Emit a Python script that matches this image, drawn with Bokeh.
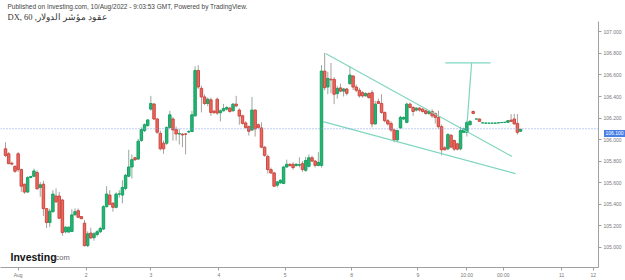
from bokeh.plotting import figure
from bokeh.models import Range1d, FixedTicker, Span, Label, PrintfTickFormatter, ColumnDataSource, Title, Div
from bokeh.layouts import column
from bokeh.embed import file_html
from bokeh.resources import INLINE

# ---------------- data (hourly candles, DX 60) ----------------
opens = [105.914, 105.868, 105.780, 105.751, 105.868, 105.721, 105.585, 105.512, 105.648, 105.659,
         105.693, 105.555, 105.585, 105.358, 105.229, 105.330, 105.475, 105.475, 105.438, 105.143,
         105.140, 105.146, 105.302, 105.339, 105.284, 105.223, 105.014, 105.131, 105.088, 105.118,
         105.143, 105.168, 105.376, 105.484, 105.407, 105.370, 105.493, 105.484, 105.546, 105.659,
         105.745,
         105.831, 105.819, 105.991, 106.083, 106.129, 106.283, 106.330, 106.191, 106.058, 105.966,
         105.966, 106.113, 106.191, 106.092, 106.052, 106.050, 106.052, 106.070, 106.074, 106.221,
         106.642, 106.476, 106.396, 106.335, 106.369, 106.265, 106.375, 106.249, 106.267, 106.283,
         106.293, 106.267, 106.329, 106.274, 106.221, 106.154, 106.120, 106.089, 106.274, 106.138,
         106.108, 105.929,
         105.843, 105.721, 105.690, 105.576, 105.597, 105.592, 105.745, 105.770, 105.770, 105.758,
         105.762, 105.776, 105.714, 105.751, 105.831, 105.800, 105.760, 105.760, 106.636, 106.488,
         106.560, 106.559, 106.427, 106.480, 106.450, 106.470, 106.519, 106.590, 106.488, 106.458,
         106.436, 106.406, 106.427, 106.436, 106.145, 106.353, 106.335, 106.252, 106.175, 106.150,
         106.089, 105.997, 106.108, 106.191, 106.160, 106.329, 106.298, 106.274, 106.292, 106.283,
         106.267, 106.243, 106.261, 106.243, 106.206, 106.120, 105.923, 105.914, 106.040, 105.991,
         105.960, 105.914, 106.067, 106.067, 106.138, 106.261, 106.191, 106.191,
         106.155, 106.153, 106.152, 106.152, 106.153, 106.155, 106.158, 106.160,
         106.160, 106.180, 106.191, 106.150, 106.077]
highs = [105.975, 105.883, 105.795, 105.760, 105.883, 105.730, 105.590, 105.659, 105.665, 105.730,
         105.714, 105.606, 105.616, 105.365, 105.358, 105.530, 105.546, 105.514, 105.450, 105.196,
         105.190, 105.352, 105.360, 105.360, 105.290, 105.253, 105.146, 105.180, 105.140, 105.160,
         105.190, 105.390, 105.567, 105.530, 105.420, 105.510, 105.530, 105.622, 105.680, 105.905,
         105.862,
         105.840, 106.006, 106.113, 106.150, 106.190, 106.406, 106.340, 106.200, 106.083, 105.991,
         106.120, 106.267, 106.210, 106.120, 106.100, 106.060, 106.060, 106.090, 106.267, 106.682,
         106.691, 106.500, 106.420, 106.390, 106.390, 106.270, 106.390, 106.280, 106.330, 106.310,
         106.300, 106.340, 106.406, 106.290, 106.230, 106.170, 106.130, 106.396, 106.280, 106.150,
         106.160, 105.940,
         105.860, 105.740, 105.700, 105.615, 105.630, 105.755, 105.813, 105.780, 105.790, 105.780,
         105.835, 105.800, 105.840, 105.862, 105.850, 105.810, 105.883, 106.691, 106.805, 106.630,
         106.712, 106.580, 106.500, 106.520, 106.480, 106.480, 106.682, 106.600, 106.510, 106.480,
         106.450, 106.440, 106.440, 106.458, 106.360, 106.380, 106.421, 106.260, 106.190, 106.170,
         106.100, 106.090, 106.220, 106.215, 106.344, 106.344, 106.310, 106.300, 106.300, 106.290,
         106.280, 106.270, 106.280, 106.250, 106.270, 106.140, 105.940, 106.060, 106.050, 106.000,
         105.970, 106.120, 106.110, 106.175, 106.180, 106.270, 106.194, 106.195,
         106.157, 106.155, 106.154, 106.154, 106.155, 106.157, 106.160, 106.162,
         106.180, 106.237, 106.237, 106.237, 106.100]
lows = [105.837, 105.770, 105.760, 105.690, 105.699, 105.514, 105.496, 105.505, 105.640, 105.650,
        105.535, 105.468, 105.290, 105.177, 105.186, 105.320, 105.410, 105.260, 105.106, 105.130,
        105.140, 105.140, 105.290, 105.270, 105.260, 105.007, 105.000, 105.080, 105.060, 105.100,
        105.130, 105.160, 105.370, 105.390, 105.330, 105.360, 105.460, 105.407, 105.530, 105.650,
        105.638,
        105.800, 105.810, 105.980, 106.070, 106.120, 106.270, 106.180, 106.052, 105.899, 105.868,
        105.950, 106.100, 105.991, 105.990, 105.954, 105.929, 105.862, 106.060, 106.070, 106.210,
        106.470, 106.252, 106.320, 106.310, 106.220, 106.240, 106.230, 106.169, 106.260, 106.270,
        106.250, 106.260, 106.300, 106.138, 106.140, 106.100, 106.037, 106.080, 106.028, 106.100,
        105.920, 105.840,
        105.684, 105.680, 105.558, 105.555, 105.590, 105.585, 105.740, 105.750, 105.720, 105.750,
        105.740, 105.700, 105.700, 105.740, 105.790, 105.740, 105.750, 105.740, 106.458, 106.421,
        106.430, 106.329, 106.380, 106.440, 106.400, 106.410, 106.510, 106.460, 106.440, 106.390,
        106.390, 106.400, 106.380, 106.113, 106.140, 106.330, 106.240, 106.160, 106.130, 106.070,
        105.975, 105.975, 106.100, 106.180, 106.150, 106.290, 106.220, 106.260, 106.260, 106.250,
        106.230, 106.230, 106.200, 106.150, 106.100, 105.853, 105.900, 105.900, 105.920, 105.895,
        105.899, 105.900, 106.060, 106.028, 106.130, 106.235, 106.188, 106.165,
        106.153, 106.151, 106.150, 106.150, 106.151, 106.153, 106.156, 106.158,
        106.155, 106.165, 106.140, 106.046, 106.070]
closes = [105.852, 105.776, 105.772, 105.705, 105.721, 105.567, 105.512, 105.647, 105.656, 105.708,
          105.542, 105.579, 105.358, 105.229, 105.334, 105.493, 105.422, 105.269, 105.136, 105.186,
          105.186, 105.300, 105.330, 105.278, 105.265, 105.014, 105.124, 105.085, 105.124, 105.143,
          105.173, 105.376, 105.493, 105.398, 105.370, 105.493, 105.496, 105.555, 105.668, 105.745,
          105.813,
          105.813, 105.985, 106.092, 106.138, 106.182, 106.335, 106.191, 106.068, 105.914, 105.914,
          106.113, 106.230, 106.089, 106.052, 106.055, 106.043, 106.050, 106.074, 106.230, 106.642,
          106.488, 106.396, 106.335, 106.375, 106.252, 106.249, 106.246, 106.267, 106.288, 106.298,
          106.261, 106.329, 106.313, 106.218, 106.150, 106.113, 106.077, 106.274, 106.099, 106.113,
          105.929, 105.853,
          105.721, 105.690, 105.567, 105.606, 105.622, 105.745, 105.770, 105.758, 105.739, 105.770,
          105.766, 105.721, 105.806, 105.831, 105.800, 105.760, 105.788, 106.636, 106.482, 106.568,
          106.555, 106.421, 106.476, 106.450, 106.470, 106.430, 106.599, 106.488, 106.458, 106.406,
          106.406, 106.427, 106.390, 106.145, 106.329, 106.335, 106.252, 106.175, 106.145, 106.089,
          105.997, 106.083, 106.206, 106.206, 106.329, 106.298, 106.261, 106.292, 106.274, 106.261,
          106.243, 106.261, 106.221, 106.206, 106.120, 105.905, 105.905, 106.046, 105.930, 105.911,
          105.911, 106.083, 106.099, 106.160, 106.169, 106.243, 106.191, 106.169,
          106.155, 106.153, 106.152, 106.152, 106.153, 106.155, 106.158, 106.160,
          106.175, 106.169, 106.145, 106.067, 106.095]

x_tick_pos = [4, 25.5, 46, 67.5, 88.5, 109.5, 130.5, 146, 157.5, 176, 186]
x_tick_labels = ["Aug", "2", "3", "4", "5", "8", "9", "10:00", "00:00", "11", "12"]
price_ticks = [105.0, 105.2, 105.4, 105.6, 105.8, 106.0, 106.2, 106.4, 106.6, 106.8, 107.0]
last_price = 106.100

# drawings (falling wedge + breakout target), in bar-index / price units
wedge_upper_x = [101.3, 160.3]
wedge_upper_y = [106.799, 105.843]
wedge_lower_x = [100.5, 161.4]
wedge_lower_y = [106.166, 105.684]
pole_x = [146.1, 147.5]
pole_y = [106.159, 106.712]
target_x = [139.2, 153.5]
target_y = [106.712, 106.712]

# ---------------- figure ----------------
X0, X1 = -1.582, 187.66
Y0, Y1 = 104.811, 107.097
FR_L, FR_R, FR_T, FR_B = 0, 598, 20, 268


def px2x(px):
    return X0 + (px - FR_L) * (X1 - X0) / (FR_R - FR_L)


def px2y(py):
    return Y1 - (py - FR_T) * (Y1 - Y0) / (FR_B - FR_T)


def y2px(v):
    return FR_T + (Y1 - v) * (FR_B - FR_T) / (Y1 - Y0)


p = figure(width=625, height=280, x_range=Range1d(X0, X1), y_range=Range1d(Y0, Y1),
           y_axis_location="right", toolbar_location=None, output_backend="svg",
           title=None, min_border_left=0, min_border_right=27, min_border_top=20,
           min_border_bottom=12)
p.outline_line_color = None
p.grid.visible = False
p.background_fill_color = "white"
p.border_fill_color = "white"

# header lines (first added sits nearest the frame)
p.add_layout(Title(text="DX, 60 ,عقود مؤشر الدولار", text_font_size="8.5px",
                   text_font="Liberation Serif", text_color="#333333", text_font_style="normal",
                   align="left", offset=7, standoff=0), "above")
p.add_layout(Title(text="Published on Investing.com, 10/Aug/2022 - 9:03:53 GMT, Powered by TradingView.",
                   text_font_size="6.5px", text_font="Liberation Sans", text_color="#444444",
                   text_font_style="normal", align="left", offset=7, standoff=0), "above")

n = len(opens)
idx = list(range(n))
up = [i for i in idx if closes[i] >= opens[i]]
dn = [i for i in idx if closes[i] < opens[i]]


def src(sel):
    return ColumnDataSource(dict(
        x=[idx[i] for i in sel],
        h=[highs[i] for i in sel],
        l=[lows[i] for i in sel],
        top=[max(opens[i], closes[i]) for i in sel],
        bot=[min(opens[i], closes[i]) for i in sel],
    ))


s_up, s_dn = src(up), src(dn)
p.segment(x0="x", y0="h", x1="x", y1="l", source=s_up, line_color="#93aa9e", line_width=1)
p.segment(x0="x", y0="h", x1="x", y1="l", source=s_dn, line_color="#a8a09c", line_width=1)
p.vbar(x="x", width=0.78, top="top", bottom="bot", source=s_up,
       fill_color="#22b573", line_color="#18a062", line_width=1)
p.vbar(x="x", width=0.78, top="top", bottom="bot", source=s_dn,
       fill_color="#ef665d", line_color="#c94a42", line_width=1)

# current price line
p.add_layout(Span(location=last_price, dimension="width", line_color="#7c9ee8",
                  line_dash="1 2", line_width=1))

# drawings
dcol = "#7fd6c0"
for xs, ys in [(wedge_upper_x, wedge_upper_y), (wedge_lower_x, wedge_lower_y),
               (pole_x, pole_y), (target_x, target_y)]:
    p.line(xs, ys, line_color=dcol, line_width=1.2)

# axes
ax = p.yaxis[0]
ax.ticker = FixedTicker(ticks=price_ticks)
ax.formatter = PrintfTickFormatter(format="%.3f")
ax.major_label_text_font_size = "5px"
ax.major_label_text_color = "#777777"
ax.major_label_text_font = "Liberation Sans"
ax.axis_line_color = "#a0a0a0"
ax.major_tick_line_color = "#a0a0a0"
ax.major_tick_out = 3
ax.major_tick_in = 0
ax.minor_tick_line_color = None
ax.major_label_standoff = 2

bx = p.xaxis[0]
bx.ticker = FixedTicker(ticks=x_tick_pos)
bx.major_label_overrides = {t: s for t, s in zip(x_tick_pos, x_tick_labels)}
bx.major_label_text_font_size = "5px"
bx.major_label_text_color = "#777777"
bx.major_label_text_font = "Liberation Sans"
bx.axis_line_color = "#a0a0a0"
bx.major_tick_line_color = "#a0a0a0"
bx.major_tick_out = 3
bx.major_tick_in = 0
bx.minor_tick_line_color = None
bx.major_label_standoff = 1

# logo
p.add_layout(Label(x=px2x(10), y=px2y(257), text="Investing", text_font_size="10.5px",
                   text_font="Liberation Sans", text_font_style="bold", text_color="#111111",
                   text_baseline="middle"))
p.add_layout(Label(x=px2x(53), y=px2y(258), text=".com", text_font_size="7.5px",
                   text_font="Liberation Sans", text_color="#666666", text_baseline="middle"))

# price tag sitting on the price axis (HTML overlay, outside the clipped plot frame)
tag_top = round(y2px(last_price) - 3.5)
tag = Div(text="%.3f" % last_price, width=21, height=7,
          styles={"position": "absolute", "left": "599px", "top": "%dpx" % tag_top,
                  "background-color": "#4a7fe6", "color": "white", "font-size": "5px",
                  "font-family": "Liberation Sans", "line-height": "7px", "text-align": "center",
                  "z-index": "10"})

layout = column(p, tag)
open("out.html", "w").write(file_html(layout, INLINE))
